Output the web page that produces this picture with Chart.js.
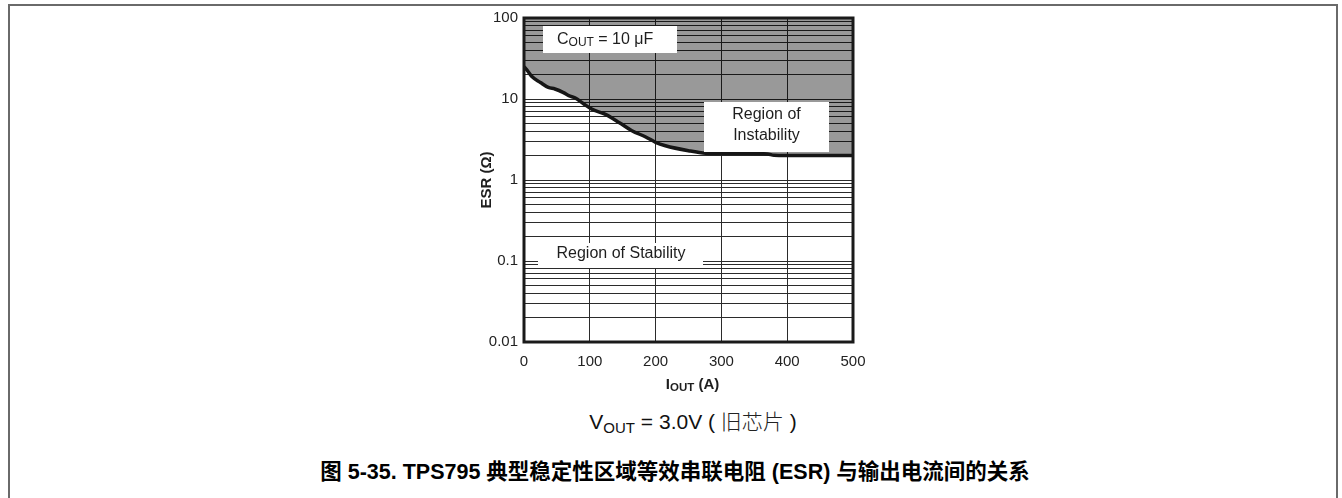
<!DOCTYPE html>
<html>
<head>
<meta charset="utf-8">
<script src="https://cdn.jsdelivr.net/npm/chart.js@4.4.1/dist/chart.umd.min.js"></script>
<style>
  html, body { margin: 0; padding: 0; background: #fff; }
  body { width: 1342px; height: 498px; position: relative; overflow: hidden;
         font-family: "Liberation Sans", Arial, "Noto Sans CJK SC", sans-serif; color: #111; }
  #frame { position: absolute; left: 8px; top: 4px; width: 1326px; height: 540px;
           border: 2px solid #6a6a6a; border-bottom: none; }
  #wrap { position: absolute; left: 0; top: 0; width: 1342px; height: 400px; }
  #vout { position: absolute; left: 693px; top: 420px; transform: translate(-50%, -50%);
          font-size: 21px; white-space: nowrap; color: #111; }
  #vout sub { font-size: 15px; vertical-align: -4px; line-height: 0; }
  #vout .cjk { font-family: "Noto Sans CJK SC", sans-serif; font-weight: 300; color: #222; }
  #caption { position: absolute; left: 675px; top: 469px; transform: translate(-50%, -50%);
             font-size: 21.5px; font-weight: bold; white-space: nowrap; color: #000;
             font-family: "Liberation Sans", Arial, "Noto Sans CJK SC", sans-serif; }
</style>
</head>
<body>
<div id="frame"></div>
<div id="wrap"><canvas id="c" width="1342" height="400"></canvas></div>
<div id="vout">V<sub>OUT</sub> = 3.0V ( <span class="cjk">旧芯片</span> )</div>
<div id="caption">图 5-35. TPS795 典型稳定性区域等效串联电阻 (ESR) 与输出电流间的关系</div>
<script>
// ---- data ----
const currentA = [0, 2, 7, 12, 25, 37, 47, 60, 68, 78, 90, 103, 123, 145, 164, 185, 200, 215, 250, 276, 300, 340, 370, 380, 420, 460, 500];
const esrOhm   = [25, 24, 21.4, 18.9, 16, 13.9, 13.3, 12, 11, 10.3, 8.8, 7.5, 6.5, 5.1, 4.06, 3.4, 2.92, 2.65, 2.3, 2.14, 2.12, 2.12, 2.1, 2.02, 2.0, 2.0, 2.0];
const xTickValues = [0, 100, 200, 300, 400, 500];
const yMajorValues = [0.01, 0.1, 1, 10, 100];
const yTickLabels = ['0.01', '0.1', '1', '10', '100'];
const minorMultipliers = [2, 3, 4, 5, 6, 7, 8, 9];

// gridline values of the log axis (majors plus minor 2..9 per decade)
const yGridValues = [];
yMajorValues.forEach((d, i) => {
  yGridValues.push(d);
  if (i < yMajorValues.length - 1) {
    minorMultipliers.forEach(m => yGridValues.push(Number((d * m).toPrecision(3))));
  }
});

function labelFor(v) {
  for (let i = 0; i < yMajorValues.length; i++) {
    if (Math.abs(v - yMajorValues[i]) < yMajorValues[i] * 1e-6) return yTickLabels[i];
  }
  return '';
}

const FONT = '"Liberation Sans", Arial, sans-serif';

function drawParts(ctx, parts, x, y, align) {
  let total = 0;
  parts.forEach(p => { ctx.font = (p.bold ? 'bold ' : '') + p.size + 'px ' + FONT; p.w = ctx.measureText(p.t).width; total += p.w; });
  let cx = align === 'center' ? x - total / 2 : x;
  ctx.textAlign = 'left';
  ctx.textBaseline = 'middle';
  parts.forEach(p => {
    ctx.font = (p.bold ? 'bold ' : '') + p.size + 'px ' + FONT;
    ctx.fillText(p.t, cx, y + (p.dy || 0));
    cx += p.w;
  });
}

const decorPlugin = {
  id: 'decor',
  afterDatasetsDraw(chart) {
    const { ctx, chartArea: a } = chart;
    ctx.save();
    // white annotation boxes
    ctx.fillStyle = '#fff';
    ctx.fillRect(a.left + 19, a.top + 8, 134, 27);
    ctx.fillRect(a.left + 180, a.top + 84, 125, 50);
    ctx.fillRect(a.left + 14, a.top + 225, 165, 25);
    ctx.fillStyle = '#1e1e1e';
    drawParts(ctx, [
      { t: 'C', size: 16 },
      { t: 'OUT', size: 12, dy: 3 },
      { t: ' = 10 \u03BCF', size: 16 }
    ], a.left + 33, a.top + 21.5, 'left');
    drawParts(ctx, [{ t: 'Region of', size: 16 }], a.left + 242.5, a.top + 97, 'center');
    drawParts(ctx, [{ t: 'Instability', size: 16 }], a.left + 242.5, a.top + 118, 'center');
    drawParts(ctx, [{ t: 'Region of Stability', size: 16 }], a.left + 97, a.top + 236, 'center');
    ctx.restore();
  },
  afterDraw(chart) {
    const { ctx, chartArea: a } = chart;
    ctx.save();
    ctx.strokeStyle = '#1a1a1a';
    ctx.lineWidth = 3;
    ctx.strokeRect(a.left, a.top, a.right - a.left, a.bottom - a.top);
    // axis titles
    ctx.fillStyle = '#1e1e1e';
    drawParts(ctx, [
      { t: 'I', size: 15, bold: true },
      { t: 'OUT', size: 11.5, bold: true, dy: 3 },
      { t: ' (A)', size: 15, bold: true }
    ], (a.left + a.right) / 2 + 4, 385, 'center');
    ctx.translate(487, (a.top + a.bottom) / 2);
    ctx.rotate(-Math.PI / 2);
    drawParts(ctx, [{ t: 'ESR (\u03A9)', size: 15, bold: true }], 0, 0, 'center');
    ctx.restore();
  }
};

const points = currentA.map((x, i) => ({ x: x, y: esrOhm[i] }));

new Chart(document.getElementById('c'), {
  type: 'line',
  data: {
    datasets: [{
      data: points,
      borderColor: '#161616',
      borderWidth: 3.5,
      backgroundColor: 'rgba(0,0,0,0.40)',
      fill: 'end',
      pointRadius: 0,
      tension: 0.25,
      cubicInterpolationMode: 'monotone'
    }]
  },
  options: {
    responsive: false,
    animation: false,
    events: [],
    layout: { padding: { left: 480, right: 489, top: 18, bottom: 28 } },
    plugins: { legend: { display: false }, tooltip: { enabled: false } },
    scales: {
      x: {
        type: 'linear', min: 0, max: 500,
        afterBuildTicks: s => { s.ticks = xTickValues.map(v => ({ value: v })); },
        afterFit: s => { s.height = 30; },
        grid: { color: '#2b2b2b', lineWidth: 1, drawTicks: false },
        border: { display: false },
        ticks: { padding: 11, color: '#222', font: { size: 15, family: FONT }, autoSkip: false, maxRotation: 0 }
      },
      y: {
        type: 'logarithmic', min: 0.01, max: 100,
        afterBuildTicks: s => { s.ticks = yGridValues.map(v => ({ value: v })); },
        afterFit: s => { s.width = 44; },
        grid: { color: '#2b2b2b', lineWidth: 1, drawTicks: false },
        border: { display: false },
        ticks: {
          padding: 6, color: '#222', font: { size: 15, family: FONT }, autoSkip: false,
          callback: (v, i, ticks) => labelFor(ticks[i].value)
        }
      }
    }
  },
  plugins: [decorPlugin]
});
</script>
</body>
</html>
